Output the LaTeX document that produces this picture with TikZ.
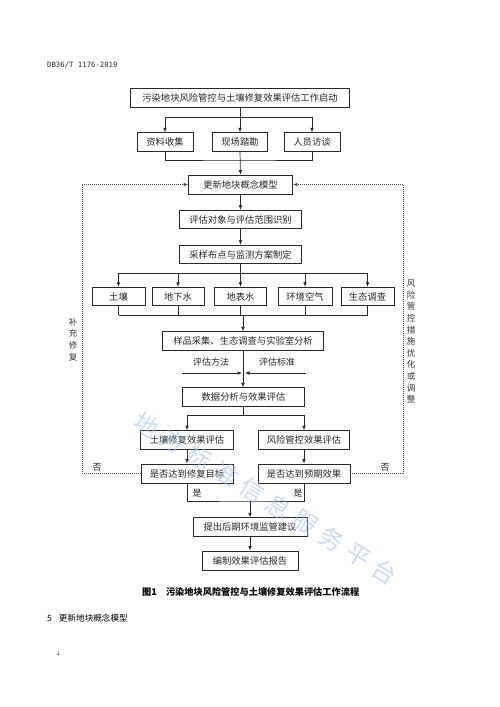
\documentclass[tikz,border=0pt]{standalone}
\usepackage{fontspec}
\setmainfont{Liberation Serif}
\newfontfamily\cjk{Noto Sans CJK SC}
\newfontfamily\hdr{DejaVu Sans Mono}
\usetikzlibrary{arrows.meta}
\definecolor{lc}{RGB}{40,40,40}
\definecolor{wm}{RGB}{160,190,232}
\tikzset{
  bx/.style={draw=lc, line width=0.8pt, inner sep=0pt, minimum height=18.5pt, text=black!85,
    font=\cjk\fontsize{9.3}{10}\selectfont},
  ln/.style={draw=lc, line width=0.7pt},
  arr/.style={ln, -{Latex[length=4.5pt,width=3.6pt]}},
  dl/.style={draw=black!70, line width=0.8pt, dash pattern=on 0.9pt off 1.1pt},
  lab/.style={inner sep=0pt, text=black!85, font=\cjk\fontsize{9}{10}\selectfont},
  vlab/.style={inner sep=0pt, text=black!80, align=center, font=\cjk\fontsize{8.5}{11.6}\selectfont},
}
\begin{document}
\begin{tikzpicture}[x=1pt,y=-1pt]
\useasboundingbox (0,0) rectangle (500,707);
\fill[white] (0,0) rectangle (500,707);
% header
\node[anchor=west, inner sep=0pt, font=\hdr\fontsize{7.3}{8}\selectfont, text=black!85] (hd) at (47,65) {DB36/T 1176-2019};
% boxes
\node[bx, minimum width=219pt] (top) at (240,98) {污染地块风险管控与土壤修复效果评估工作启动};
\node[bx, minimum width=56pt] (zl) at (165,142) {资料收集};
\node[bx, minimum width=55pt] (xc) at (240,142) {现场踏勘};
\node[bx, minimum width=56pt] (ry) at (312,142) {人员访谈};
\node[bx, minimum width=104pt, minimum height=19pt] (gx) at (240.5,184.5) {更新地块概念模型};
\node[bx, minimum width=122pt] (pg) at (240.5,219.5) {评估对象与评估范围识别};
\node[bx, minimum width=122pt] (cy) at (240.5,254.5) {采样布点与监测方案制定};
\node[bx, minimum width=53pt] (tr) at (118.5,296.5) {土壤};
\node[bx, minimum width=52pt] (dx) at (178,296.5) {地下水};
\node[bx, minimum width=52pt] (db) at (240.5,296.5) {地表水};
\node[bx, minimum width=54pt] (hj) at (305,296.5) {环境空气};
\node[bx, minimum width=53pt] (st) at (367.5,296.5) {生态调查};
\node[bx, minimum width=161pt] (yp) at (243,341) {样品采集、生态调查与实验室分析};
\node[bx, minimum width=122pt] (sj) at (243.5,397) {数据分析与效果评估};
\node[bx, minimum width=93pt] (tx) at (187,440) {土壤修复效果评估};
\node[bx, minimum width=91pt] (fx) at (304,440) {风险管控效果评估};
\node[bx, minimum width=92pt, minimum height=19pt] (s1) at (187,473.5) {是否达到修复目标};
\node[bx, minimum width=92pt, minimum height=19pt] (s2) at (304,473.5) {是否达到预期效果};
\node[bx, minimum width=114pt] (tc) at (250,527) {提出后期环境监管建议};
\node[bx, minimum width=96pt, minimum height=19pt] (bz) at (250,560.5) {编制效果评估报告};
% connectors top
\coordinate (j1) at (240,117);
\coordinate (j2) at (240,160);
\draw[arr] (top.south) -- (xc.north);
\draw[ln] (zl.north |- j1) -- (ry.north |- j1);
\draw[arr] (zl.north |- j1) -- (zl.north);
\draw[arr] (ry.north |- j1) -- (ry.north);
\draw[ln] (zl.south) |- (j2) -| (ry.south);
\draw[arr] (xc.south) -- (gx.north);
\draw[arr] (gx.south) -- (pg.north);
\draw[arr] (pg.south) -- (cy.north);
% five branches
\coordinate (j3) at (240.5,273);
\coordinate (j4) at (243,315);
\draw[ln] (cy.south) -- (j3);
\draw[ln] (tr.north |- j3) -- (st.north |- j3);
\foreach \n in {tr,dx,db,hj,st}{\draw[arr] (\n.north |- j3) -- (\n.north);}
\draw[ln] (tr.south |- j4) -- (st.south |- j4);
\foreach \n in {tr,dx,db,hj,st}{\draw[ln] (\n.south) -- (\n.south |- j4);}
\draw[arr] (j4) -- (yp.north);
% methods
\coordinate (ml) at (182,373);
\coordinate (mc) at (242,373);
\coordinate (mr) at (306,373);
\coordinate (mc2) at (245,373);
\draw[arr] (ml) -- (mc);
\draw[arr] (mr) -- (mc2);
\draw[arr] (yp.south) -- (yp.south |- sj.north);
\node[lab] (ff) at (211,362) {评估方法};
\node[lab] (bzz) at (277,362) {评估标准};
% split
\coordinate (j5) at (244,415);
\draw[ln] (sj.south |- j5) -- (sj.south);
\draw[ln] (tx.north |- j5) -- (fx.north |- j5);
\draw[arr] (tx.north |- j5) -- (tx.north);
\draw[arr] (fx.north |- j5) -- (fx.north);
\draw[arr] (tx.south) -- (s1.north);
\draw[arr] (fx.south) -- (s2.north);
% yes
\coordinate (j6) at (250,501);
\draw[ln] (s1.south) |- (j6) -| (s2.south);
\draw[arr] (j6) -- (tc.north);
\draw[arr] (tc.south) -- (bz.north);
\node[lab] (y1) at (197,493) {是};
\node[lab] (y2) at (298,493) {是};
% dotted loops
\coordinate (lc1) at (82,184.5);
\coordinate (rc1) at (403,184.5);
\draw[dl, -{Latex[length=4.5pt,width=3.6pt]}] (s1.west) -| (lc1) -- (gx.west);
\draw[dl, -{Latex[length=4.5pt,width=3.6pt]}] (s2.east) -| (rc1) -- (gx.east);
\node[lab] (n1) at (97,467) {否};
\node[lab] (n2) at (385,467) {否};
\node[vlab] (lt) at (73,339.5) {补\\充\\修\\复};
\node[vlab] (rt) at (411,341.5) {风\\险\\管\\控\\措\\施\\优\\化\\或\\调\\整};
% caption
\node[anchor=west, inner sep=0pt, font=\cjk\fontsize{9.2}{10}\selectfont\bfseries] (cap) at (142,592) {图1\hspace{9pt}污染地块风险管控与土壤修复效果评估工作流程};
\node[anchor=west, inner sep=0pt, font=\cjk\fontsize{8.6}{10}\selectfont] (sec) at (47,618) {5\hspace{7pt}更新地块概念模型};
\node[inner sep=0pt, font=\fontsize{7}{8}\selectfont, text=black!60] (pn) at (58,654) {4};
% watermark
\foreach \c [count=\i] in {地,方,标,准,信,息,服,务,平,台}{
  \node[inner sep=0pt, rotate=-32, text=wm, opacity=0.55, font=\cjk\fontsize{24}{24}\selectfont] (w\i) at ({147+(\i-1)*26.4},{425+(\i-1)*16.3}) {\c};
}
\end{tikzpicture}
\end{document}
